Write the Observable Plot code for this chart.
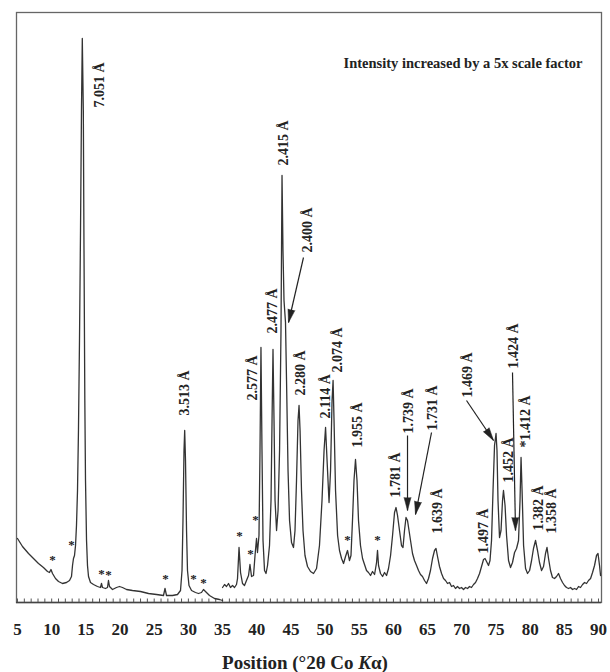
<!DOCTYPE html>
<html><head><meta charset="utf-8">
<script src="https://cdn.jsdelivr.net/npm/d3@7"></script>
<script src="https://cdn.jsdelivr.net/npm/@observablehq/plot@0.6"></script>
<style>
body{margin:0;background:#fff;}
#chart{width:610px;}
#title{width:610px;text-align:center;font-family:"Liberation Serif","Times New Roman",serif;font-weight:bold;font-size:19px;line-height:24px;margin-top:6px;color:#222;}
</style></head><body>
<div id="chart"></div>
<div id="title">Position (°2θ Co <i>K</i>α)</div>
<script>
// ---- data: low-angle segment (as measured) ----
const lowTheta = [5.00,5.73,6.61,7.34,8.07,8.80,9.39,9.68,9.90,10.12,10.56,11.00,11.58,12.17,12.61,12.90,13.05,13.19,13.34,13.49,13.63,13.78,13.92,14.07,14.22,14.36,14.48,14.63,14.73,14.85,14.95,15.10,15.24,15.39,15.68,16.12,16.70,17.14,17.29,17.43,17.87,18.17,18.31,18.46,18.90,19.48,19.92,20.36,20.95,21.82,23.00,24.17,25.34,26.36,26.58,26.80,27.68,28.41,28.85,29.07,29.21,29.36,29.46,29.58,29.73,29.87,30.09,30.46,31.04,31.48,31.92,32.21,32.50,33.09,33.82,34.55,35.00];
const lowCounts = [64,56,49,44,39,35,31,30,33,29,24,21,19,20,22,26,37,44,47,57,77,112,172,262,372,492,564,492,352,202,122,62,37,26,20,18,16,15,19,15,14,15,22,16,13,15,16,15,13,12,11,9,8,7,14,7,7,8,12,32,82,152,172,142,72,32,17,12,10,9,10,13,11,7,4,3,2];
// ---- data: high-angle segment (intensity x5) ----
const highTheta = [35.00,35.29,35.58,35.87,36.16,36.46,36.75,37.04,37.19,37.41,37.63,37.92,38.21,38.50,38.80,39.01,39.24,39.53,39.75,39.97,40.11,40.33,40.48,40.62,40.77,40.92,41.14,41.36,41.58,41.87,42.09,42.24,42.38,42.53,42.68,42.90,43.12,43.34,43.55,43.70,43.84,43.99,44.21,44.36,44.58,44.80,45.09,45.38,45.60,45.82,46.04,46.19,46.34,46.55,46.77,47.06,47.43,47.87,48.31,48.75,49.18,49.55,49.85,50.07,50.29,50.58,50.80,51.02,51.17,51.31,51.53,51.83,52.11,52.41,52.70,52.99,53.28,53.57,53.79,54.01,54.23,54.45,54.67,54.89,55.18,55.48,55.77,56.06,56.35,56.65,56.94,57.24,57.53,57.67,57.82,58.11,58.41,58.70,58.99,59.28,59.58,59.87,60.16,60.38,60.60,60.89,61.18,61.40,61.62,61.84,62.06,62.28,62.50,62.79,63.08,63.38,63.67,63.96,64.25,64.55,64.84,65.13,65.42,65.72,66.01,66.23,66.45,66.74,67.04,67.33,67.62,67.91,68.21,68.50,68.79,69.08,69.37,69.67,69.96,70.25,70.55,70.84,71.13,71.42,71.72,72.01,72.30,72.60,72.89,73.18,73.40,73.62,73.91,74.13,74.35,74.57,74.79,75.01,75.15,75.30,75.52,75.74,75.96,76.10,76.33,76.55,76.84,77.13,77.42,77.72,78.01,78.30,78.52,78.67,78.82,79.04,79.33,79.62,79.92,80.21,80.49,80.79,81.08,81.37,81.67,81.96,82.25,82.47,82.69,82.98,83.27,83.57,83.86,84.15,84.44,84.74,85.03,85.32,85.62,85.91,86.20,86.50,86.79,87.08,87.37,87.67,87.96,88.25,88.54,88.84,89.13,89.42,89.71,89.93,90.15,90.30];
const highCounts = [15,18,16,19,15,17,15,18,24,55,30,19,17,22,27,38,26,27,47,64,50,67,152,255,152,62,32,29,37,57,102,182,253,182,102,72,92,152,272,427,352,302,280,222,132,82,60,55,72,122,182,197,172,112,72,47,36,31,29,34,57,102,152,175,142,100,132,202,222,182,112,67,52,44,39,46,52,42,47,82,122,143,122,82,57,44,38,32,30,27,31,28,40,52,37,29,26,30,27,34,47,67,90,95,87,72,57,55,72,85,82,72,62,49,42,37,32,28,26,22,19,24,32,44,52,54,46,36,29,24,22,19,20,16,17,14,16,14,15,13,15,14,16,15,18,20,24,29,36,43,44,41,37,42,62,112,157,169,152,102,65,72,102,112,97,67,42,35,40,50,54,62,102,145,112,57,34,29,32,42,54,62,52,40,32,36,49,55,44,32,25,24,26,29,24,20,17,15,14,15,13,14,13,16,15,18,20,19,22,24,30,37,47,49,37,27];

// ---- peak labels (d-spacings) ----
const peakLabels = ["7.051 Å","3.513 Å","2.577 Å","2.477 Å","2.415 Å","2.400 Å","2.280 Å","2.114 Å","2.074 Å","1.955 Å","1.781 Å","1.739 Å","1.731 Å","1.639 Å","1.497 Å","1.469 Å","1.452 Å","1.424 Å","*1.412 Å","1.382 Å","1.358 Å"];
const labelTheta = [17.00,29.43,39.38,42.31,43.92,47.43,46.41,50.07,51.82,54.75,60.31,62.21,65.72,66.45,73.18,70.84,76.84,77.57,79.33,81.23,83.14];
const labelBase  = [495,187,202,269,437,350,207,184,230,155,105,169,172,69,49,205,120,234,155,72,69];

// ---- asterisks (unassigned reflections) ----
const starTheta = [10.12,12.90,17.29,18.31,26.65,30.75,32.21,37.48,39.09,39.82,53.28,57.67];
const starLevel = [45,60,31,30,26,26,22,69,51,85,65,65];

// ---- arrows from labels to shoulders ----
const arrowTheta1 = [46.84,62.06,65.57,70.69,77.42];
const arrowLevel1 = [345,167,170,202,230];
const arrowTheta2 = [44.65,62.06,63.23,74.64,77.86];
const arrowLevel2 = [280,92,88,162,72];

const xTicks = d3.range(5, 91, 5);
const minorTicks = d3.range(5, 91, 1);
const note = "Intensity increased by a 5x scale factor";

const xDomain = [4.854, 90.44], yDomain = [0, 590];
const W = 610, H = 645, mL = 16, mR = 9, mT = 12, mB = 43;
const kx = (W - mL - mR) / (xDomain[1] - xDomain[0]);
const ky = (H - mT - mB) / (yDomain[1] - yDomain[0]);

const low = lowTheta.map((t, i) => ({t, c: lowCounts[i]}));
const high = highTheta.map((t, i) => ({t, c: highCounts[i]}));
const labels = peakLabels.map((s, i) => ({s, t: labelTheta[i], c: labelBase[i]}));
const stars = starTheta.map((t, i) => ({t, c: starLevel[i]}));
const arrows = arrowTheta1.map((t, i) => {
  const x1 = t, y1 = arrowLevel1[i], x2 = arrowTheta2[i], y2 = arrowLevel2[i];
  const dx = (x2 - x1) * kx, dy = -(y2 - y1) * ky;
  return {x1, y1, x2, y2, a: Math.atan2(dx, -dy) * 180 / Math.PI};
});

const font = '"Liberation Serif", "Times New Roman", serif';
const ink = "#222";

const chart = Plot.plot({
  width: W, height: H,
  marginTop: mT, marginBottom: mB, marginLeft: mL, marginRight: mR,
  x: {domain: xDomain, axis: null},
  y: {domain: yDomain, axis: null},
  style: {fontFamily: font, fontWeight: "bold", background: "white", color: ink},
  marks: [
    Plot.frame({stroke: "#666", strokeWidth: 1.3}),
    Plot.ruleY([0], {stroke: "#444", strokeWidth: 1.4}),
    Plot.ruleX(minorTicks, {y1: 0, y2: 3.5, stroke: "#555", strokeWidth: 1}),
    Plot.axisX({ticks: xTicks, tickSize: 0, tickPadding: 20, fontSize: 17, fontWeight: "bold", fill: ink, anchor: "bottom"}),
    Plot.line(low, {x: "t", y: "c", stroke: "#333", strokeWidth: 1.3}),
    Plot.line(high, {x: "t", y: "c", stroke: "#333", strokeWidth: 1.3}),
    Plot.text(labels, {x: "t", y: "c", text: "s", rotate: -90, textAnchor: "start", fontSize: 14, fontWeight: "bold", fill: ink}),
    Plot.text(stars, {x: "t", y: "c", text: () => "*", fontSize: 13, fontWeight: "bold", fill: ink, dy: 2}),
    Plot.link(arrows, {x1: "x1", y1: "y1", x2: "x2", y2: "y2", stroke: ink, strokeWidth: 1.2}),
    Plot.vector(arrows, {x: "x2", y: "y2", rotate: "a", length: 13, anchor: "end", shape: "spike", r: 3.5, fill: ink, stroke: ink, strokeWidth: 0.5}),
    Plot.text([note], {x: 52.70, y: 539, text: d => d, textAnchor: "start", fontSize: 14.5, fontWeight: "bold", fill: ink})
  ]
});
document.getElementById("chart").appendChild(chart);
</script>
</body></html>
